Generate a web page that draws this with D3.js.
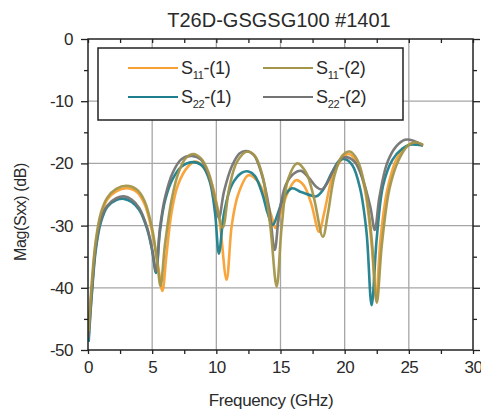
<!DOCTYPE html>
<html>
<head>
<meta charset="utf-8">
<script src="https://cdn.jsdelivr.net/npm/d3@7"></script>
<style>
  html, body { margin: 0; padding: 0; background: #fff; }
  text { font-family: "Liberation Sans", Arial, sans-serif; fill: #2a2a2a; }
</style>
</head>
<body>
<div id="chart"></div>
<script>
// data (frequency in GHz, magnitude in dB)
var s11_1_f  = [0.05, 0.3, 0.6, 1.0, 1.5, 2.2, 3.0, 3.8, 4.4, 5.0, 5.5, 5.8, 6.1, 6.5, 7.0, 7.8, 8.4, 9.0, 9.6, 10.2, 10.8, 11.2, 11.7, 12.5, 13.2, 13.8, 14.3, 14.6, 15.0, 15.6, 16.2, 16.8, 17.4, 18.0, 18.4, 19.0, 19.6, 20.3, 21.0, 21.6, 22.1, 22.45, 22.8, 23.3, 24.0, 24.8, 25.5, 26.1];
var s11_1_db = [-46, -40, -33, -28.5, -25.8, -24.5, -24.0, -24.6, -26.5, -31, -37, -40.5, -35, -28, -23.5, -20.5, -19.7, -20.6, -23, -28.5, -38.7, -30, -25, -21.9, -22.8, -25.3, -28.5, -30.4, -28, -24.5, -22.7, -23.5, -26.5, -31.0, -28, -22.5, -19.8, -18.5, -20, -24.5, -33, -41.5, -32, -24.5, -19.5, -17.3, -16.6, -17.2];

var s11_2_f  = [0.05, 0.3, 0.6, 1.0, 1.5, 2.2, 3.0, 3.8, 4.4, 5.0, 5.4, 5.65, 6.0, 6.5, 7.0, 7.6, 8.2, 8.8, 9.4, 10.0, 10.5, 11.0, 11.6, 12.4, 13.0, 13.6, 14.2, 14.7, 15.1, 15.6, 16.3, 17.0, 17.6, 18.3, 18.7, 19.2, 19.8, 20.4, 21.0, 21.6, 22.1, 22.5, 22.9, 23.5, 24.2, 24.9, 25.5, 26.1];
var s11_2_db = [-47, -39, -32.5, -28, -25.5, -24.1, -23.6, -24.2, -26, -30.5, -36, -39.7, -33, -26, -21.8, -19.2, -18.5, -19.2, -21.5, -26.5, -30.3, -24, -19.8, -18.1, -18.8, -22, -30, -39.8, -30, -22.5, -20.0, -21.5, -25.5, -31.8, -28, -22, -18.8, -18.1, -19.5, -24, -32, -42.4, -33, -24, -19.5, -17.2, -16.6, -17.0];

var s22_1_f  = [0.05, 0.3, 0.6, 1.0, 1.5, 2.2, 2.8, 3.4, 4.0, 4.6, 5.0, 5.3, 5.6, 6.0, 6.6, 7.3, 8.2, 8.9, 9.5, 9.9, 10.2, 10.6, 11.2, 12.0, 12.5, 13.0, 13.6, 14.0, 14.4, 14.8, 15.3, 15.9, 16.6, 17.3, 17.8, 18.3, 19.0, 19.6, 20.0, 20.6, 21.2, 21.7, 22.1, 22.5, 23.0, 23.7, 24.5, 25.1, 25.6, 26.1];
var s22_1_db = [-48.7, -41, -34, -29.5, -27, -25.9, -25.7, -26.2, -27.5, -30.5, -34, -37.6, -31, -26, -22.5, -20.5, -19.8, -20.4, -23, -28, -34.5, -28, -23.5, -21.5, -21.3, -22, -25, -28, -29.9, -28, -25.3, -24.0, -24.6, -25.1, -25.3, -24.3, -21.5, -19.5, -19.3, -20.3, -24, -31, -42.8, -32, -23.5, -19.5, -17.6, -17.0, -17.0, -17.1];

var s22_2_f  = [0.05, 0.3, 0.6, 1.0, 1.5, 2.2, 2.8, 3.4, 4.0, 4.6, 5.0, 5.3, 5.6, 6.0, 6.6, 7.3, 8.1, 8.8, 9.4, 9.9, 10.2, 10.6, 11.2, 11.8, 12.3, 12.9, 13.5, 14.1, 14.55, 14.9, 15.4, 16.0, 16.6, 17.2, 17.8, 18.2, 18.6, 19.2, 19.8, 20.2, 20.8, 21.4, 22.0, 22.35, 22.7, 23.3, 24.0, 24.7, 25.3, 26.1];
var s22_2_db = [-48, -40.5, -33.5, -29, -26.8, -25.6, -25.3, -25.8, -27.2, -30.3, -33.8, -37.3, -30.5, -25.5, -21.5, -19.3, -18.8, -19.4, -22, -26, -28.8, -24.5, -20.5, -18.4, -18.0, -18.6, -21.5, -27, -33.9, -28, -23.5, -21.7, -21.2, -22.3, -23.8, -24.2, -23.3, -20.8, -19.2, -19.0, -19.8, -22.5, -27, -30.7, -25.5, -20, -17.3, -16.2, -16.3, -17.1];

var seriesNames = ["S11-(1)", "S11-(2)", "S22-(1)", "S22-(2)"];
var seriesColors = ["#f7a032", "#a3954a", "#1d7f8c", "#747474"];
var xTicks = [0, 5, 10, 15, 20, 25, 30];
var yTicks = [0, -10, -20, -30, -40, -50];

var series = [
  { name: seriesNames[0], color: seriesColors[0], f: s11_1_f, db: s11_1_db },
  { name: seriesNames[1], color: seriesColors[1], f: s11_2_f, db: s11_2_db },
  { name: seriesNames[2], color: seriesColors[2], f: s22_1_f, db: s22_1_db },
  { name: seriesNames[3], color: seriesColors[3], f: s22_2_f, db: s22_2_db }
];

var width = 481, height = 410;
var margin = { left: 88, right: 8, top: 39, bottom: 60 };
var plotW = width - margin.left - margin.right;
var plotH = height - margin.top - margin.bottom;

var x = d3.scaleLinear().domain([0, 30]).range([0, plotW]);
var y = d3.scaleLinear().domain([-50, 0]).range([plotH, 0]);

var svg = d3.select("#chart").append("svg")
  .attr("width", width)
  .attr("height", height);

svg.append("text")
  .attr("x", 279)
  .attr("y", 27)
  .attr("text-anchor", "middle")
  .style("font-size", "20px")
  .text("T26D-GSGSG100 #1401");

var g = svg.append("g").attr("transform", "translate(" + margin.left + "," + margin.top + ")");

// grid
g.selectAll(".vgrid").data(xTicks.slice(1, -1)).enter().append("line")
  .attr("x1", d => x(d)).attr("x2", d => x(d))
  .attr("y1", 0).attr("y2", plotH)
  .attr("stroke", "#a6a6a6").attr("stroke-width", 1.3);
g.selectAll(".hgrid").data(yTicks.slice(1, -1)).enter().append("line")
  .attr("y1", d => y(d)).attr("y2", d => y(d))
  .attr("x1", 0).attr("x2", plotW)
  .attr("stroke", "#a6a6a6").attr("stroke-width", 1.3);

// curves
g.append("clipPath").attr("id", "clip").append("rect")
  .attr("width", plotW).attr("height", plotH);

var line = d3.line()
  .x(d => x(d[0]))
  .y(d => y(d[1]))
  .curve(d3.curveCatmullRom.alpha(0.5));

var drawOrder = [0, 2, 3, 1];
drawOrder.forEach(function (i) {
  var s = series[i];
  g.append("path")
    .attr("clip-path", "url(#clip)")
    .attr("d", line(s.f.map((f, k) => [f, s.db[k]])))
    .attr("fill", "none")
    .attr("stroke", s.color)
    .attr("stroke-width", 2.6)
    .attr("stroke-linejoin", "round")
    .attr("opacity", 0.95);
});

// axes
var minorY = d3.range(-45, 0, 10);
var minorX = d3.range(2.5, 30, 5);
var plain = d => String(d);

function styleAxis(sel) {
  sel.select(".domain").remove();
  sel.selectAll(".tick line").attr("stroke", "#222").attr("stroke-width", 1.3);
  sel.selectAll("text").style("font-size", "17px").attr("fill", "#2a2a2a").attr("letter-spacing", "-0.5");
}

g.append("g").call(d3.axisLeft(y).tickValues(yTicks).tickSize(7).tickPadding(8).tickFormat(plain)).call(styleAxis);
g.append("g").call(d3.axisLeft(y).tickValues(minorY).tickSize(4).tickFormat("")).call(styleAxis);
g.append("g").attr("transform", "translate(" + plotW + ",0)")
  .call(d3.axisRight(y).tickValues(yTicks).tickSize(7).tickFormat("")).call(styleAxis);
g.append("g").attr("transform", "translate(" + plotW + ",0)")
  .call(d3.axisRight(y).tickValues(minorY).tickSize(4).tickFormat("")).call(styleAxis);

g.append("g").attr("transform", "translate(0," + plotH + ")")
  .call(d3.axisBottom(x).tickValues(xTicks).tickSize(4).tickPadding(7).tickFormat(plain)).call(styleAxis);
g.append("g").attr("transform", "translate(0," + plotH + ")")
  .call(d3.axisBottom(x).tickValues(minorX).tickSize(4).tickFormat("")).call(styleAxis);
g.append("g")
  .call(d3.axisTop(x).tickValues(xTicks.concat(minorX)).tickSize(-4).tickFormat("")).call(styleAxis);

g.append("rect")
  .attr("width", plotW).attr("height", plotH)
  .attr("fill", "none").attr("stroke", "#222").attr("stroke-width", 1.5);

// axis titles
svg.append("text")
  .attr("x", 271)
  .attr("y", 406)
  .attr("text-anchor", "middle")
  .attr("letter-spacing", "-0.4")
  .style("font-size", "17px")
  .text("Frequency (GHz)");

svg.append("text")
  .attr("transform", "translate(26,212) rotate(-90)")
  .attr("text-anchor", "middle")
  .attr("letter-spacing", "-0.4")
  .style("font-size", "16px")
  .text("Mag(Sxx) (dB)");

// legend
var legend = svg.append("g").attr("transform", "translate(98,48)");
legend.append("rect")
  .attr("width", 305).attr("height", 72)
  .attr("fill", "#fff").attr("stroke", "#222").attr("stroke-width", 1.5);

var legendPos = [[30, 20], [165, 20], [30, 49], [165, 49]];
series.forEach(function (s, i) {
  var p = legendPos[i];
  legend.append("line")
    .attr("x1", p[0]).attr("x2", p[0] + 50)
    .attr("y1", p[1]).attr("y2", p[1])
    .attr("stroke", s.color).attr("stroke-width", 2);
  var parts = s.name.match(/^S(\d\d)(.*)$/);
  var t = legend.append("text")
    .attr("x", p[0] + 53).attr("y", p[1] + 6)
    .attr("letter-spacing", "-0.3")
    .style("font-size", "18px");
  t.append("tspan").text("S");
  t.append("tspan").attr("dy", 5).style("font-size", "11px").text(parts[1]);
  t.append("tspan").attr("dy", -5).text(parts[2]);
});
</script>
</body>
</html>
